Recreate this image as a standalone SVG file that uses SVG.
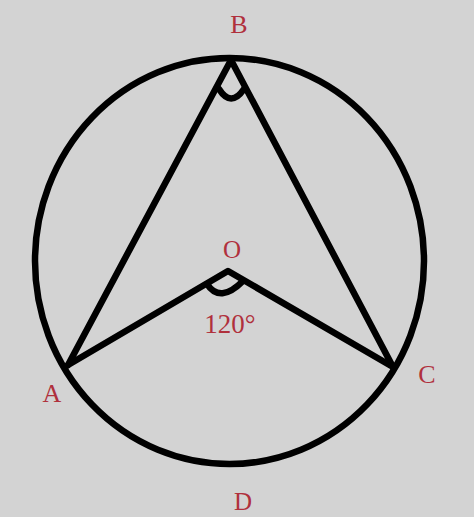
<svg xmlns="http://www.w3.org/2000/svg" width="474" height="517" viewBox="0 0 474 517">
<style>
.ln{fill:none;stroke:#000;stroke-width:6.5;stroke-linejoin:round;stroke-linecap:round}
.lb{font-family:"Liberation Serif",serif;fill:#b0303c;text-anchor:middle}
</style>
<rect width="474" height="517" fill="#d3d3d3"/>
<g id="circle"><ellipse class="ln" cx="229.5" cy="261" rx="194.5" ry="203"/></g>
<g id="connectors">
<polyline class="ln" points="68,365 231,60 393,367"/>
<polyline class="ln" points="68,365 228,271 393,367"/>
<path class="ln" d="M219,89 Q231,108 244,89"/>
<path class="ln" d="M207,284 Q220,304 243,281"/>
</g>
<g id="B"><text class="lb" x="239" y="33" font-size="26">B</text></g>
<g id="O"><text class="lb" x="232" y="258" font-size="25">O</text></g>
<g id="angle"><text class="lb" x="230" y="333" font-size="27">120°</text></g>
<g id="A"><text class="lb" x="52" y="402" font-size="26">A</text></g>
<g id="C"><text class="lb" x="427" y="383" font-size="26">C</text></g>
<g id="D"><text class="lb" x="243" y="510" font-size="25">D</text></g>
</svg>
